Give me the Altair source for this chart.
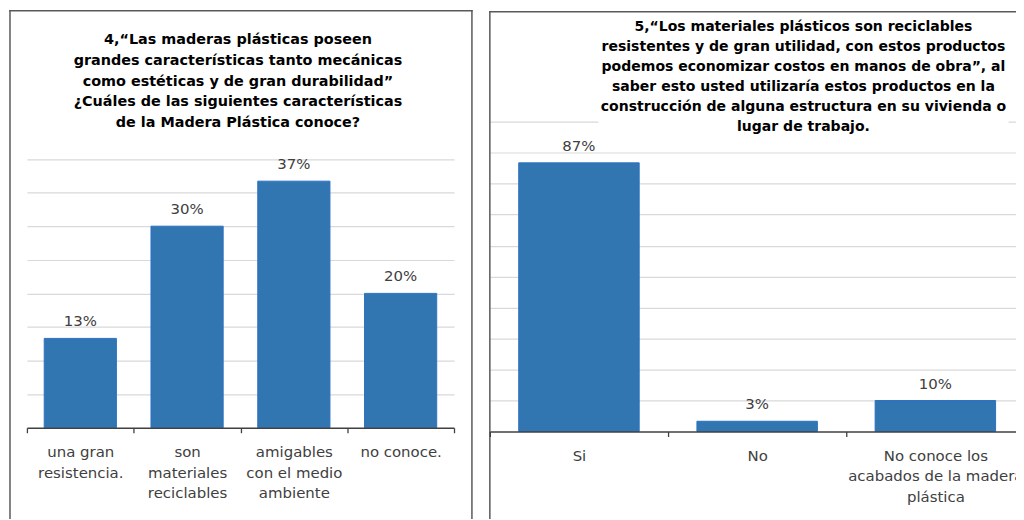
import altair as alt
import pandas as pd

# ---- data ----
q4_categories = ["una gran\nresistencia.", "son\nmateriales\nreciclables",
                 "amigables\ncon el medio\nambiente", "no conoce."]
q4_values = [13.3, 30.0, 36.7, 20.0]
q4_grid = [5, 10, 15, 20, 25, 30, 35, 40]
q4_title = ["4,“Las maderas plásticas poseen",
            "grandes características tanto mecánicas",
            "como estéticas y de gran durabilidad”",
            "¿Cuáles de las siguientes características",
            "de la Madera Plástica conoce?"]

q5_categories = ["Si", "No", "No conoce los\nacabados de la madera\nplástica"]
q5_values = [86.7, 3.3, 10.0]
q5_grid = [10, 20, 30, 40, 50, 60, 70, 80, 90, 100]
q5_title = ["5,“Los materiales plásticos son reciclables",
            "resistentes y de gran utilidad, con estos productos",
            "podemos economizar costos en manos de obra”, al",
            "saber esto usted utilizaría estos productos en la",
            "construcción de alguna estructura en su vivienda o",
            "lugar de trabajo."]

FONT = "DejaVu Sans"
BAR = "#3175B1"
TEXT = "#404040"
FRAME = "#595959"
one = pd.DataFrame({"k": [0]})


def vrule(x, y1, y2):
    return alt.Chart(one).mark_rule(color=FRAME, strokeWidth=1.5, strokeCap="square").encode(
        x=alt.value(x), y=alt.value(y1), y2=alt.value(y2))


def hrule(x1, x2, y):
    return alt.Chart(one).mark_rule(color=FRAME, strokeWidth=1.5, strokeCap="square").encode(
        x=alt.value(x1), x2=alt.value(x2), y=alt.value(y))


def panel(cats, vals, ymax, grid, width, height, title_lines, tx, ty, tfs, tlh, frames,
          bg=None, extent=None):
    df = pd.DataFrame({"cat": cats, "v": vals})
    base = alt.Chart(df).encode(
        x=alt.X("cat:N", sort=None,
                scale=alt.Scale(paddingInner=0, paddingOuter=0),
                axis=alt.Axis(title=None, labelAngle=0, labelFont=FONT, labelFontSize=15,
                              labelColor=TEXT, labelLineHeight=20.5, labelPadding=12,
                              labelLimit=400, labelExpr="split(datum.label, '\\n')",
                              domainColor=TEXT, domainWidth=1.5, tickColor=TEXT,
                              tickWidth=1.3, tickSize=5, tickBand="extent", grid=False,
                              zindex=2)),
        y=alt.Y("v:Q", scale=alt.Scale(domain=[0, ymax], nice=False, zero=True),
                axis=alt.Axis(title=None, labels=False, ticks=False, domain=False, grid=True,
                              values=grid, gridColor="#d9d9d9", gridWidth=1.2)),
    )
    bars = base.mark_bar(color=BAR, stroke="#2C72C4", strokeWidth=1,
                         width=alt.RelativeBandSize(0.676))
    labels = base.mark_text(dy=-17, baseline="middle", align="center", font=FONT,
                            fontSize=15, color=TEXT).transform_calculate(
        lab="format(datum.v, '.0f') + '%'").encode(text="lab:N")
    layers = [bars, labels]
    if bg is not None:
        layers.append(alt.Chart(one).mark_rect(color="white").encode(
            x=alt.value(bg[0]), x2=alt.value(bg[1]), y=alt.value(bg[2]), y2=alt.value(bg[3])))
    layers.append(alt.Chart(one).mark_text(align="center", baseline="top", font=FONT,
                                           fontWeight="bold", fontSize=tfs, lineHeight=tlh,
                                           color="black").encode(
        x=alt.value(tx), y=alt.value(ty), text=alt.value(title_lines)))
    layers.extend(frames)
    if extent is not None:
        # invisible box that fixes the right edge of the drawing's bounds
        layers.append(alt.Chart(one).mark_rect(opacity=0).encode(
            x=alt.value(0), x2=alt.value(extent), y=alt.value(0), y2=alt.value(10)))
    return alt.layer(*layers).properties(width=width, height=height)


# both plot areas share the same top; the left one keeps empty room above 40 %
left = panel(q4_categories, q4_values, 45.56, q4_grid, 429, 307.5, q4_title, 212, -89,
             14.45, 20.9,
             [vrule(-17, -111.5, 398.5), vrule(447, -111.5, 398.5), hrule(-17, 447, -111.5)])

right = panel(q5_categories, q5_values, 100, q5_grid, 537, 311.25, q5_title, 315, -102, 14.1, 20,
              [vrule(0, -110.5, 398.5), hrule(0, 545, -110.5)],
              bg=(109, 521, -100, 14), extent=560)

# the right panel runs past the page edge, as in the cropped original: clip it there
chart = alt.hconcat(left, right, spacing=14).properties(
    padding={"left": 0, "top": 0, "bottom": 0, "right": -31.5}, background="white"
).configure_view(stroke=None)

chart.save("out.html", embed_options={"renderer": "svg", "actions": False})
